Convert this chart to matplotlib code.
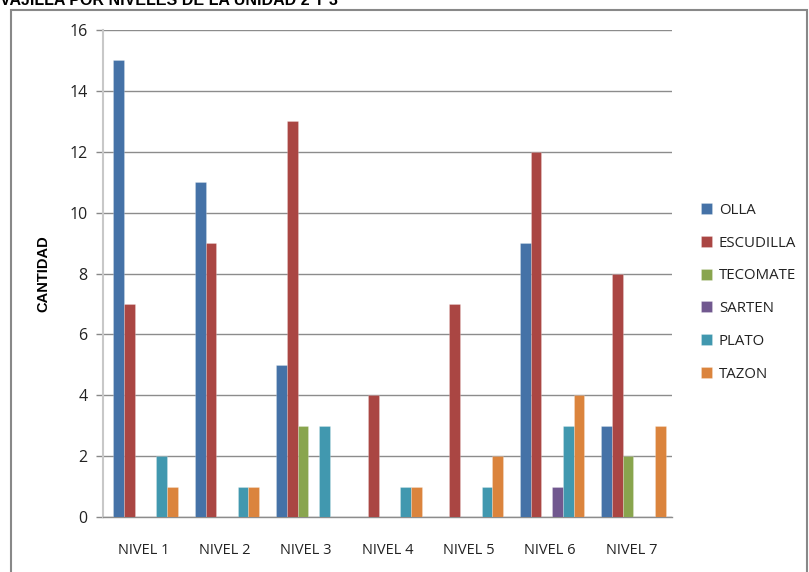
import matplotlib
matplotlib.use("Agg")
import matplotlib.pyplot as plt
import numpy as np
from matplotlib.patches import Rectangle

categories = ["NIVEL 1", "NIVEL 2", "NIVEL 3", "NIVEL 4", "NIVEL 5", "NIVEL 6", "NIVEL 7"]
series_names = ["OLLA", "ESCUDILLA", "TECOMATE", "SARTEN", "PLATO", "TAZON"]
olla = [15, 11, 5, 0, 0, 9, 3]
escudilla = [7, 9, 13, 4, 7, 12, 8]
tecomate = [0, 0, 3, 0, 0, 0, 2]
sarten = [0, 0, 0, 0, 0, 1, 0]
plato = [2, 1, 3, 1, 1, 3, 0]
tazon = [1, 1, 0, 1, 2, 4, 3]
series_values = [olla, escudilla, tecomate, sarten, plato, tazon]
colors = ["#4572A7", "#AA4643", "#89A54E", "#71588F", "#4198AF", "#DB843D"]
yticks = [0, 2, 4, 6, 8, 10, 12, 14, 16]

plt.rcParams['font.family'] = ['Open Sans', 'DejaVu Sans']

fig = plt.figure(figsize=(8.09, 5.72), dpi=100)
ax = fig.add_axes([103/809, 1-517/572, (672-103)/809, (517-30)/572])

x = np.arange(len(categories))
bw = 0.132
n = len(series_names)
offset0 = -bw * (n - 1) / 2 + 0.025
for i, (name, vals, c) in enumerate(zip(series_names, series_values, colors)):
    ax.bar(x + offset0 + i * bw, vals, width=bw, color=c, label=name,
           edgecolor=(1, 1, 1, 0.3), linewidth=0.5, zorder=3)

ax.set_xlim(-0.5, len(categories) - 0.5)
ax.set_ylim(0, 16)
ax.set_yticks(yticks)
ax.set_yticklabels([str(v) for v in yticks], fontsize=11.5, color="#222222")
ax.set_xticks(x)
ax.set_xticklabels(categories, fontsize=10.5, color="#222222")
ax.tick_params(axis='x', length=0, pad=19)
ax.tick_params(axis='y', length=5, color="#888888", width=1, pad=6)
ax.yaxis.grid(True, color="#8C8C8C", linewidth=1, zorder=0)
ax.set_axisbelow(True)
for s in ["top", "right"]:
    ax.spines[s].set_visible(False)
ax.spines["left"].set_color("#C8C8C8")
ax.spines["left"].set_linewidth(1.5)
ax.spines["bottom"].set_color("#8C8C8C")
ax.spines["bottom"].set_linewidth(1)

ax.set_ylabel("CANTIDAD", fontsize=10.5, fontweight="bold", labelpad=14,
              family=['Liberation Sans', 'DejaVu Sans'])

leg = fig.legend(loc="upper left", bbox_to_anchor=(695/809, 1-197/572), frameon=False,
                 fontsize=10.8, handlelength=0.75, handleheight=0.75,
                 handletextpad=0.45, labelspacing=1.18, borderaxespad=0)
for t in leg.get_texts():
    t.set_color("#222222")

# outer frame
fig.patches.append(Rectangle((11/809, -0.05), (807-11)/809, 1.05 - 10/572,
                             transform=fig.transFigure, fill=False,
                             edgecolor="#888888", linewidth=1.5))

fig.text(0.0, 1 - 5/572, "VAJILLA POR NIVELES DE LA UNIDAD 2 Y 3", fontsize=11.5,
         fontweight="bold", va="baseline", ha="left",
         family=['Liberation Sans', 'DejaVu Sans'])

fig.savefig("out.png", dpi=100)
